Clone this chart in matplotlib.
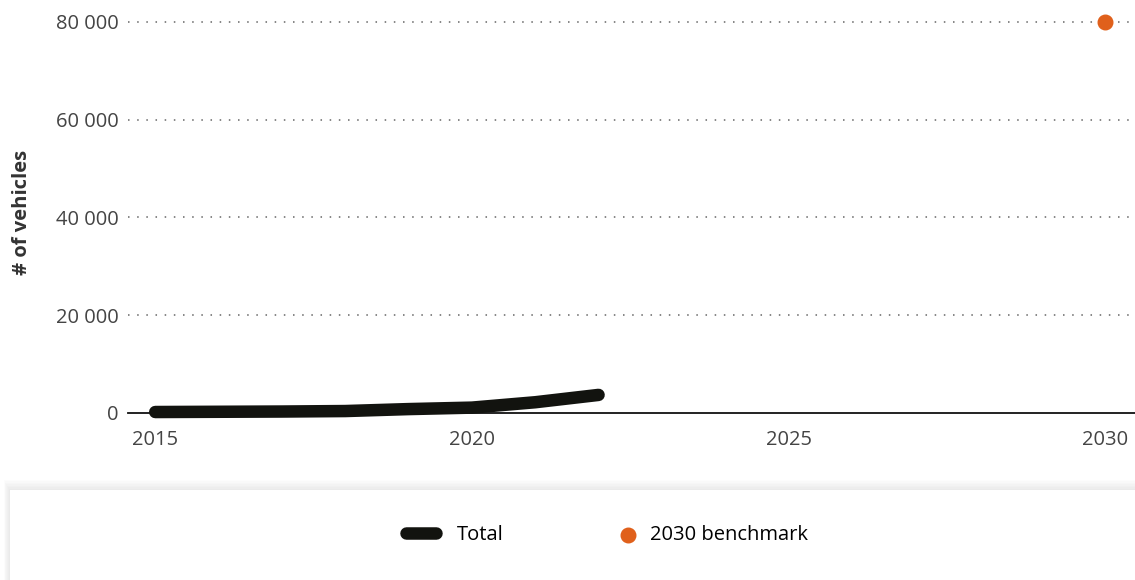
import matplotlib.pyplot as plt
import matplotlib.patches as mpatches
from matplotlib.ticker import FuncFormatter

plt.rcParams['font.family'] = ['Open Sans', 'DejaVu Sans']

# data
years = [2015, 2016, 2017, 2018, 2019, 2020, 2021, 2022]
total = [200, 250, 300, 400, 800, 1100, 2200, 3700]
bench_year = [2030]
bench_value = [80000]
y_ticks = [0, 20000, 40000, 60000, 80000]
x_ticks = [2015, 2020, 2025, 2030]

fig = plt.figure(figsize=(11.35, 5.8), dpi=100)
ax = fig.add_axes([128/1135, 167/580, 1 - 128/1135, (413 - 12)/580])

line, = ax.plot(years, total, color='#12130f', lw=9, solid_capstyle='round', label='Total', zorder=3, clip_on=False)
dot = ax.scatter(bench_year, bench_value, color='#e0601b', s=110, label='2030 benchmark', zorder=4, clip_on=False)

ax.set_xlim(2014.57, 2030.47)
ax.set_ylim(0, 82000)
ax.set_xticks(x_ticks)
ax.set_yticks(y_ticks)
ax.yaxis.set_major_formatter(FuncFormatter(lambda v, p: '{:,.0f}'.format(v).replace(',', ' ')))

for s in ['top', 'right', 'left']:
    ax.spines[s].set_visible(False)
ax.spines['bottom'].set_color('#111111')
ax.spines['bottom'].set_linewidth(1.3)
ax.tick_params(axis='both', length=0, labelsize=14.5, labelcolor='#444444')
ax.tick_params(axis='x', pad=12)
ax.tick_params(axis='y', pad=7)

for v in y_ticks[1:]:
    ax.axhline(v, color='#666666', lw=1.1, ls=(0, (1, 5)), zorder=1)

ax.set_ylabel('# of vehicles', fontsize=14.5, fontweight='bold', color='#333333', labelpad=17)

# legend box with soft shadow
for i in range(8):
    fig.patches.append(mpatches.Rectangle((10/1135 - i*0.0008, 0), 1.1, (90 + i*1.5)/580,
                                          transform=fig.transFigure, facecolor='#000000',
                                          alpha=0.012, edgecolor='none', zorder=0))
fig.patches.append(mpatches.Rectangle((10/1135, 0), 1.1, 90/580, transform=fig.transFigure,
                                      facecolor='white', edgecolor='none', zorder=1))

leg1 = fig.legend([line], ['Total'], loc='center left', bbox_to_anchor=(406/1135, 45/580),
                  frameon=False, fontsize=14.5, handlelength=1.49, handletextpad=1.05,
                  borderpad=0, borderaxespad=0)
leg2 = fig.legend([dot], ['2030 benchmark'], loc='center left', bbox_to_anchor=(618/1135, 45/580),
                  frameon=False, fontsize=14.5, handlelength=1.0, handletextpad=0.6,
                  borderpad=0, borderaxespad=0)

fig.savefig('out.png', dpi=100, facecolor='white')
